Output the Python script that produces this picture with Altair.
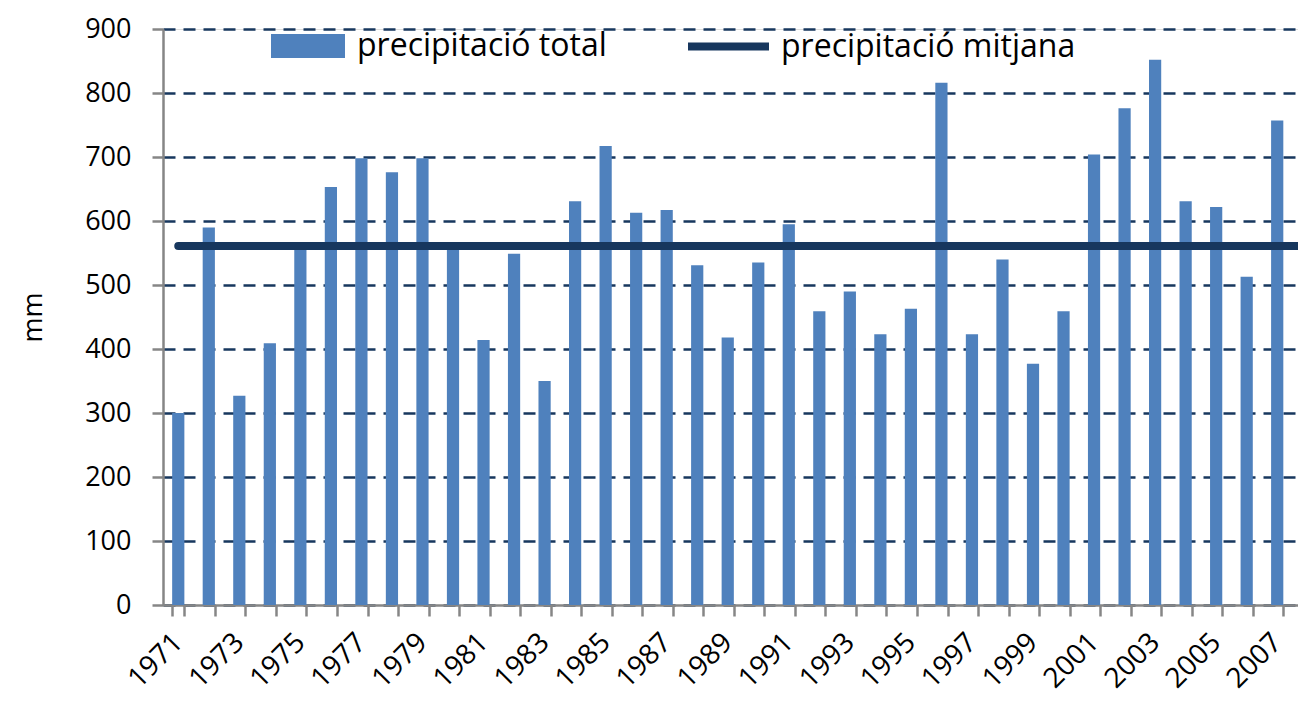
import altair as alt
import pandas as pd

# ---- data ----
anys = [str(y) for y in range(1971, 2009)]
precipitacio_total = [300, 590, 327, 409, 562, 653, 698, 676, 698, 562,
                      414, 549, 350, 631, 717, 613, 617, 531, 418, 535,
                      595, 459, 490, 423, 463, 816, 423, 540, 377, 459,
                      704, 776, 852, 631, 622, 513, 757, 649]
precipitacio_mitjana = 561
serie_total = "precipitació total"
serie_mitjana = "precipitació mitjana"
y_ticks = [0, 100, 200, 300, 400, 500, 600, 700, 800, 900]

df = pd.DataFrame({"any": anys, "mm": precipitacio_total, "serie": serie_total})
df_mitjana = pd.DataFrame({"any": [anys[0]], "any2": [anys[-1]],
                           "mm": [precipitacio_mitjana], "serie": [serie_mitjana]})

FONT = "Open Sans"
BAR = "#4F81BD"
NAVY = "#17375E"
GRAY = "#868686"

x_scale = alt.Scale(domain=anys, range=[0, 1160], paddingInner=0.6, paddingOuter=0.3)
y_scale = alt.Scale(domain=[0, 900], nice=False)

bars = alt.Chart(df).mark_bar().encode(
    x=alt.X("any:N", scale=x_scale, sort=anys,
            axis=alt.Axis(title=None, tickBand="extent", labelAngle=315,
                          labelAlign="right", labelBaseline="middle",
                          labelPadding=22, tickSize=11, tickWidth=2.5,
                          tickColor=GRAY, domainColor=GRAY, domainWidth=2.5,
                          labelFont=FONT, labelFontSize=28, labelColor="black",
                          labelExpr="(toNumber(datum.value) - 1971) % 2 == 0 ? datum.value : ''",
                          grid=False, labelOverlap=False)),
    y=alt.Y("mm:Q", scale=y_scale,
            axis=alt.Axis(title="mm", values=y_ticks, grid=True, gridColor=NAVY,
                          gridDash=[12, 8], gridWidth=2.5, tickSize=11,
                          tickWidth=2.5, tickColor=GRAY, domainColor=GRAY,
                          domainWidth=2.5, labelFont=FONT, labelFontSize=27,
                          labelColor="black", labelPadding=21,
                          titleFont=FONT, titleFontSize=27, titleFontWeight="normal",
                          titleColor="black", titlePadding=37)),
    fill=alt.Fill("serie:N", scale=alt.Scale(domain=[serie_total], range=[BAR]),
                  legend=alt.Legend(title=None, orient="none", legendX=108, legendY=-20,
                                    padding=0, labelLimit=0,
                                    symbolType="M-1,-0.324H1V0.324H-1Z",
                                    symbolSize=5476, symbolStrokeWidth=0,
                                    labelFont=FONT, labelFontSize=32,
                                    labelColor="black", labelOffset=12)),
)

linia = alt.Chart(df_mitjana).mark_rule(strokeWidth=8, strokeCap="round").encode(
    x=alt.X("any:N", sort=anys),
    x2="any2:N",
    y=alt.Y("mm:Q"),
    stroke=alt.Stroke("serie:N", scale=alt.Scale(domain=[serie_mitjana], range=[NAVY]),
                      legend=alt.Legend(title=None, orient="none", legendX=521, legendY=-27,
                                        padding=0, labelLimit=0, symbolType="stroke",
                                        symbolSize=6561, symbolStrokeWidth=8,
                                        labelFont=FONT, labelFontSize=32,
                                        labelColor="black", labelOffset=8)),
)

chart = alt.layer(bars, linia).properties(
    width=1135, height=576,
    autosize=alt.AutoSizeParams(type="none"),
    padding={"left": 155, "right": 0, "top": 21, "bottom": 93},
).configure_view(stroke=None).configure(background="white")

chart.save("out.html", embed_options={"renderer": "svg", "actions": False})
